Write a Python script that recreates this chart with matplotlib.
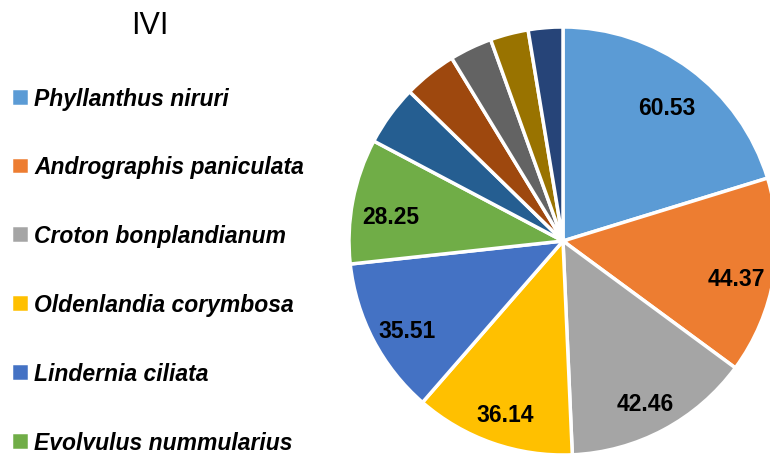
import matplotlib
matplotlib.use("Agg")
import matplotlib.pyplot as plt
from matplotlib.transforms import ScaledTranslation

# IVI values per species (first six are labelled in the source chart)
species = ["Phyllanthus niruri", "Andrographis paniculata", "Croton bonplandianum",
           "Oldenlandia corymbosa", "Lindernia ciliata", "Evolvulus nummularius",
           "Species 7", "Species 8", "Species 9", "Species 10", "Species 11"]
ivi = [60.53, 44.37, 42.46, 36.14, 35.51, 28.25, 13.6, 12.0, 9.6, 8.6, 7.8]
colors = ["#5B9BD5", "#ED7D31", "#A5A5A5", "#FFC000", "#4472C4", "#70AD47",
          "#255E91", "#9E480E", "#636363", "#997300", "#264478"]
n_legend = 6

total = sum(ivi)
font = "Liberation Sans"

fig = plt.figure(figsize=(7.7, 4.56), dpi=100)

# pie centred at (563, 242) px, radius 214 px
ax = fig.add_axes([(563 - 214) / 770, (456 - 242 - 214) / 456, 428 / 770, 428 / 456])


def fmt(pct):
    v = pct * total / 100
    return f"{v:.2f}" if v > 20 else ""


wedges, texts, autotexts = ax.pie(
    ivi, colors=colors, startangle=90, counterclock=False,
    autopct=fmt, pctdistance=0.82, radius=1,
    wedgeprops=dict(edgecolor="white", linewidth=2.5),
    textprops=dict(fontsize=16.5, fontweight="bold", family=font, color="black"),
)
# excel puts the labels a touch lower than the wedge centroid
shift = ScaledTranslation(0, -8 / 100, fig.dpi_scale_trans)
for t in autotexts:
    t.set_transform(t.get_transform() + shift)

ax.set_xlim(-1, 1)
ax.set_ylim(-1, 1)
ax.set_aspect("equal")
ax.axis("off")

fig.text(150 / 770, 1 - 26 / 456, "IVI", ha="center", va="center",
         fontsize=22, family=font)

# legend swatches keep the white wedge edge, so make them a bit larger
leg = fig.legend(wedges[:n_legend], species[:n_legend],
                 loc="upper left", bbox_to_anchor=(-10 / 770, 1 - 67 / 456),
                 frameon=False, handlelength=0.81, handleheight=0.81,
                 handletextpad=0.22, labelspacing=2.0,
                 prop=dict(family=font, style="italic", weight="bold", size=16.5))

fig.savefig("out.png", dpi=100)
